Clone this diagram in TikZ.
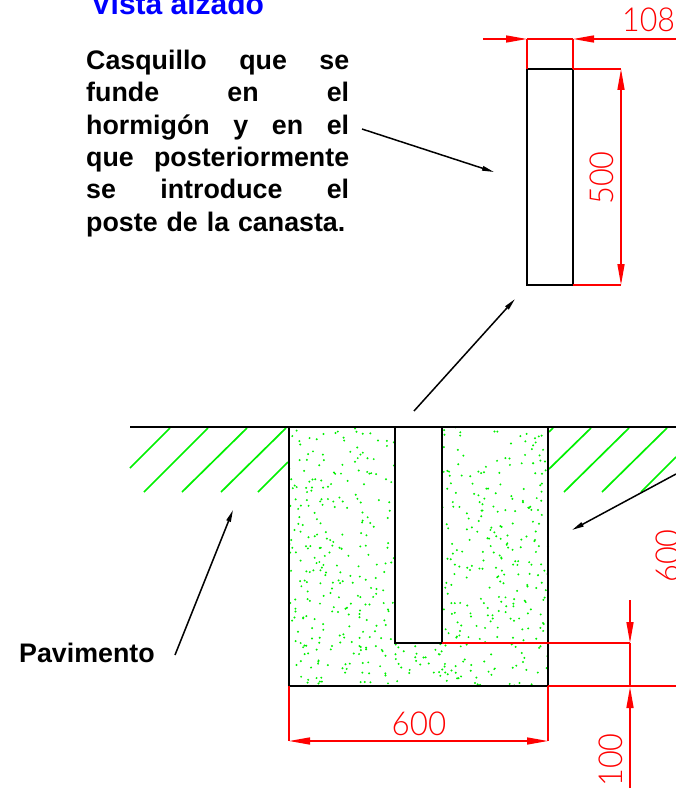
\documentclass[tikz,border=0pt]{standalone}
\usepackage{fontspec}
\setmainfont{Liberation Sans}
\newfontfamily\cadfont{Lato Light}
\usetikzlibrary{arrows.meta}
\definecolor{cadgreen}{RGB}{0,240,0}
\definecolor{cadred}{RGB}{255,0,0}
\definecolor{cadblue}{RGB}{0,0,255}
\tikzset{
  solidline/.style={draw=black,line width=1.8pt},
  hatchline/.style={draw=cadgreen,line width=1.7pt},
  leader/.style={draw=black,line width=1.5pt,-{Triangle[length=12pt,width=4.5pt]}},
  dimline/.style={draw=cadred,line width=1.5pt},
  dimtip/.style={{Triangle[length=21pt,width=7pt]}-{Triangle[length=21pt,width=7pt]}},
  dimend/.style={-{Triangle[length=21pt,width=7pt]}},
  dimtext/.style={text=cadred,inner sep=0pt,font=\cadfont\fontsize{33}{33}\selectfont},
  label/.style={inner sep=0pt,font=\bfseries\fontsize{26.8}{32.3}\selectfont}
}
\begin{document}
\begin{tikzpicture}[x=1pt,y=-1pt]
\useasboundingbox (0,0) rectangle (676,789);
\clip (0,0) rectangle (676,789);
% soil hatching
\foreach \xa/\ya/\xb/\yb in {170/428/130/468,208/428/144/492,247/428/182/492,286/428/221/492,288/462/258/492,553/428/549/432,591/428/549/469,629/428/564/492,667/428/602/492,676/457/641/492}
  \draw[hatchline] (\xa,\ya) -- (\xb,\yb);
% concrete stipple
\pgfmathsetseed{4242}
\fill[cadgreen] foreach \i in {1,...,700} {
  ({289+129.5+129.5*rand},{427+129.5+129.5*rand}) circle[radius=1.1]
};
% foundation, post socket
\coordinate (fa) at (289,427);
\coordinate (fb) at (548,686);
\coordinate (pa) at (395,427);
\coordinate (pb) at (442,643);
\coordinate (ga) at (130,427);
\coordinate (gb) at (676,427);
\fill[white] (pa) rectangle (pb);
\draw[solidline] (fa) rectangle (fb);
\draw[solidline] (pa) rectangle (pb);
\draw[solidline] (ga) -- (gb);
% socket, detail
\coordinate (sa) at (527,69);
\coordinate (sb) at (573,285);
\draw[solidline] (sa) rectangle (sb);
% dimensions: 108
\coordinate (d1a) at (483,39);
\coordinate (d1b) at (527,39);
\coordinate (d1c) at (676,39);
\coordinate (d1d) at (573,39);
\draw[dimline] (d1b) -- (sa);
\draw[dimline] (d1d) -- (573,69);
\draw[dimline] (d1b) -- (d1d);
\draw[dimline,dimend] (d1a) -- (d1b);
\draw[dimline,dimend] (d1c) -- (d1d);
\node[dimtext,xscale=0.92,anchor=base west] (t108) at (622,32) {108};
% dimensions: 500
\coordinate (d2a) at (621,69);
\coordinate (d2b) at (621,285);
\draw[dimline] (573,69) -- (d2a);
\draw[dimline] (sb) -- (d2b);
\draw[dimline,dimtip] (d2a) -- (d2b);
\node[dimtext,rotate=90,xscale=0.93,anchor=base] (t500) at (613,178) {500};
% dimensions: 600 bottom
\coordinate (d3a) at (289,741);
\coordinate (d3b) at (548,741);
\draw[dimline] (289,686) -- (d3a);
\draw[dimline] (fb) -- (d3b);
\draw[dimline,dimtip] (d3a) -- (d3b);
\node[dimtext,xscale=0.95,anchor=base] (t600b) at (419,735) {600};
% dimensions: right
\coordinate (d4a) at (630,600);
\coordinate (d4b) at (630,643);
\coordinate (d4c) at (630,687);
\coordinate (d4d) at (630,788);
\draw[dimline] (pb) -- (d4b);
\draw[dimline] (fb) -- (676,686);
\draw[dimline] (d4b) -- (d4c);
\draw[dimline,dimend] (d4a) -- (d4b);
\draw[dimline,dimend] (d4d) -- (d4c);
\node[dimtext,rotate=90,xscale=0.93,anchor=base] (t100) at (622,760) {100};
\node[dimtext,rotate=90,xscale=0.93,anchor=base] (t600r) at (679,556) {600};
% texts
\node[inner sep=0pt,anchor=base west,text=cadblue,font=\bfseries\fontsize{30}{32}\selectfont] (title) at (91,15) {Vista alzado};
\node[label,anchor=north west,text width=263pt,align=left] (note) at (86,50) {%
\makebox[263pt][s]{Casquillo\hfill que\hfill se}\\
\makebox[263pt][s]{funde\hfill en\hfill el}\\
\makebox[263pt][s]{hormigón\hfill y\hfill en\hfill el}\\
\makebox[263pt][s]{que\hfill posteriormente}\\
\makebox[263pt][s]{se\hfill introduce\hfill el}\\
poste de la canasta.};
\node[label,anchor=base west] (pav) at (19,662) {Pavimento};
% leaders
\coordinate (l1a) at (362,129);
\coordinate (l1b) at (494,172);
\coordinate (l2a) at (414,411);
\coordinate (l2b) at (515,299);
\coordinate (l3a) at (175,655);
\coordinate (l3b) at (233,510);
\coordinate (l4a) at (676,474);
\coordinate (l4b) at (572,530);
\draw[leader] (l1a) -- (l1b);
\draw[leader] (l2a) -- (l2b);
\draw[leader] (l3a) -- (l3b);
\draw[leader] (l4a) -- (l4b);
\end{tikzpicture}
\end{document}
